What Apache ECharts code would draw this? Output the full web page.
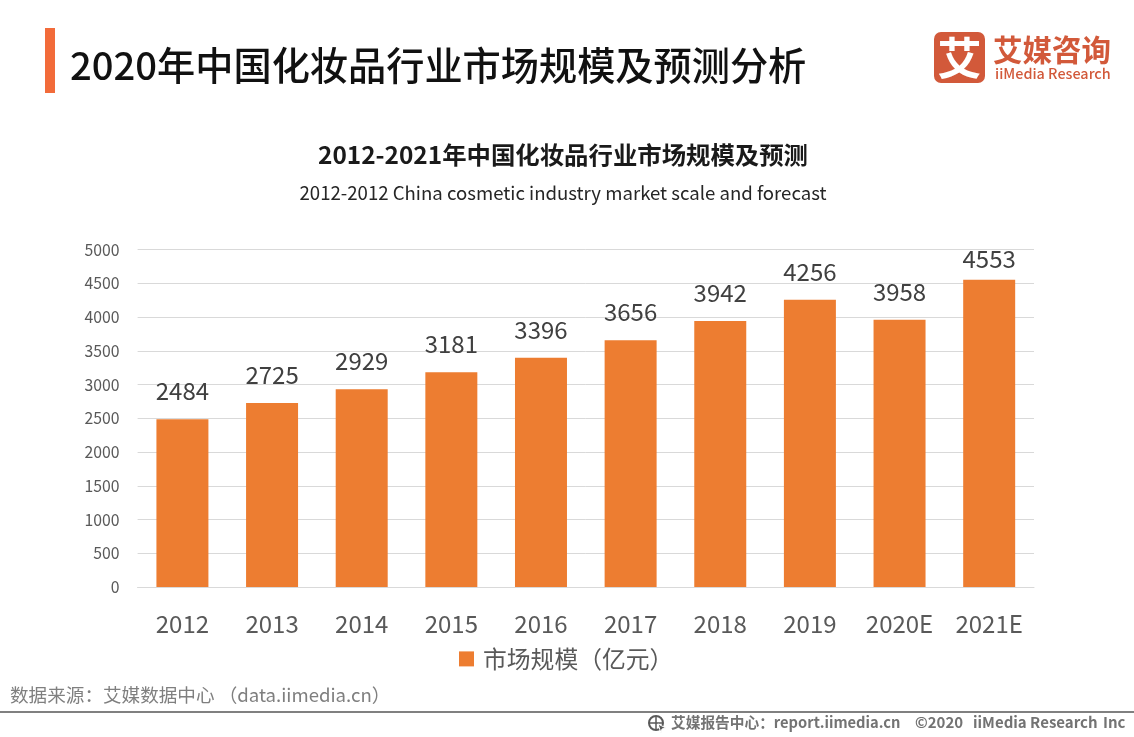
<!DOCTYPE html>
<html><head><meta charset="utf-8">
<style>html,body{margin:0;padding:0;background:#fff}#c{width:1134px;height:737px}</style>
<script src="https://cdn.jsdelivr.net/npm/echarts@6/dist/echarts.min.js"></script></head>
<body><div id="c"></div>
<script>
const categories=['2012','2013','2014','2015','2016','2017','2018','2019','2020E','2021E'];
const marketScale=[2484,2725,2929,3181,3396,3656,3942,4256,3958,4553];
const yTicks={min:0,max:5000,interval:500};
const seriesName='市场规模（亿元）';
const pageTitle='2020年中国化妆品行业市场规模及预测分析';
const chartTitle='2012-2021年中国化妆品行业市场规模及预测';
const chartSubtitle='2012-2012 China cosmetic industry market scale and forecast';
const sourceText='数据来源：艾媒数据中心 （data.iimedia.cn）';
const footerReport='艾媒报告中心：report.iimedia.cn';
const footerYear='©2020';
const footerCompany='iiMedia Research';
const footerInc='Inc';
const F='"Noto Sans CJK SC","Noto Sans",sans-serif';
const chart=echarts.init(document.getElementById('c'),null,{renderer:'canvas'});
function txt(x,y,text,size,color,weight,align){return {type:'text',x,y,style:{text,font:`${weight||'normal'} ${size}px ${F}`,fill:color,textAlign:align||'left',textVerticalAlign:'middle'}};}
chart.setOption({
 animation:false,
 textStyle:{fontFamily:F},
 grid:{left:137.6,right:100,top:249.5,bottom:150,containLabel:false},
 legend:{show:true,left:454,top:642,itemWidth:15,itemHeight:15,itemGap:10,icon:'rect',
   textStyle:{fontSize:23.8,color:'#595959',fontFamily:F,padding:[0,0,0,4]},data:[seriesName]},
 xAxis:{type:'category',data:categories,axisLine:{lineStyle:{color:'#d9d9d9'}},axisTick:{show:false},
   axisLabel:{fontSize:24,color:'#595959',margin:25,fontFamily:F}},
 yAxis:{type:'value',min:yTicks.min,max:yTicks.max,interval:yTicks.interval,axisLine:{show:false},axisTick:{show:false},
   splitLine:{lineStyle:{color:'#d9d9d9',width:1}},
   axisLabel:{fontSize:15.8,color:'#595959',margin:18,fontFamily:F,formatter:v=>String(v)}},
 series:[{name:seriesName,type:'bar',
   data:marketScale.map((v,i)=>i===marketScale.length-1?{value:v,label:{distance:9}}:v),
   barWidth:'58%',itemStyle:{color:'#ed7d31'},
   label:{show:true,position:'top',distance:16,fontSize:24,color:'#404040',fontFamily:F}}],
 graphic:[
  {type:'rect',shape:{x:45,y:28,width:10,height:65},style:{fill:'#f26b3a'}},
  txt(70,65,pageTitle,38.2,'#111','500'),
  txt(563,155,chartTitle,24.4,'#1a1a1a','bold','center'),
  txt(563,193,chartSubtitle,18.6,'#262626','normal','center'),
  {type:'rect',shape:{x:934,y:32,width:51,height:51,r:7},style:{fill:'#d2593a'}},
  txt(959.5,58,'艾',44,'#fff','bold','center'),
  txt(993,50,'艾媒咨询',29.5,'#d2593a','bold'),
  txt(995,74,'iiMedia Research',14.4,'#d2593a','500'),
  txt(10,695,sourceText,18.6,'#7f7f7f'),
  {type:'rect',shape:{x:0,y:711,width:1134,height:2},style:{fill:'#808080'}},
  {type:'circle',shape:{cx:656,cy:723,r:7},style:{fill:'none',stroke:'#595959',lineWidth:2}},
  {type:'line',shape:{x1:649,y1:723,x2:663,y2:723},style:{stroke:'#595959',lineWidth:1.5}},
  {type:'line',shape:{x1:656,y1:716,x2:656,y2:730},style:{stroke:'#595959',lineWidth:1.5}},
  {type:'polygon',shape:{points:[[658,724],[666,728],[662,729],[661,733]]},style:{fill:'#595959',stroke:'#fff',lineWidth:1}},
  txt(671,722,footerReport,14.7,'#737373','bold'),
  txt(915,722,footerYear,15,'#737373','bold'),
  txt(973,722,footerCompany,15,'#737373','bold'),
  txt(1103,722,footerInc,15,'#737373','bold')
 ]
});
</script></body></html>
